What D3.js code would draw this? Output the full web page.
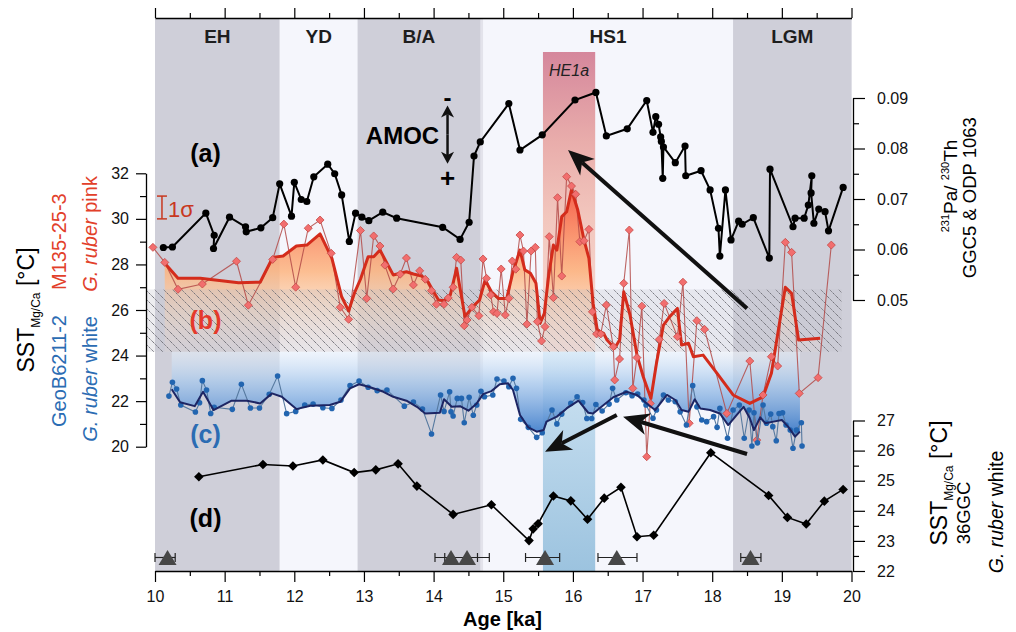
<!DOCTYPE html>
<html>
<head>
<meta charset="utf-8">
<script src="https://cdn.jsdelivr.net/npm/d3@7"></script>
<style>
  body { margin: 0; background: #fff; }
  svg { display: block; font-family: "Liberation Sans", Arial, Helvetica, sans-serif; }
</style>
</head>
<body>
<svg id="chart" width="1016" height="632"></svg>
<script>
// ---- values ----
const periodNames = ["EH", "YD", "B/A", "HS1", "LGM"];
const periodStart = [10, 11.79, 12.91, 14.71, 18.30];
const periodEnd = [11.79, 12.91, 14.67, 18.30, 20];
const he1aRange = [15.57, 16.32];
const modernSST = [24.17, 26.9];
const modernAge = [9.88, 19.86];

// (a) 231Pa/230Th, GGC5 & ODP 1063
const paAge = [10.12,10.25,10.73,10.85,10.84,11.07,11.30,11.31,11.52,11.69,
  11.79,11.96,12.00,12.10,12.18,12.28,12.48,12.58,12.68,12.79,
  12.88,12.97,13.07,13.27,13.47,14.13,14.38,14.51,14.58,14.67,
  15.08,15.24,15.56,16.03,16.33,16.48,16.78,17.06,17.15,17.19,
  17.23,17.26,17.27,17.29,17.30,17.47,17.61,17.62,17.84,17.97,
  18.09,18.11,18.19,18.27,18.38,18.43,18.59,18.82,18.83,19.16,
  19.19,19.32,19.38,19.43,19.42,19.46,19.53,19.62,19.67,19.88];
const paVal = [0.0604,0.0605,0.0672,0.0628,0.0602,0.0664,0.0645,0.0635,0.0643,0.0663,
  0.0730,0.0666,0.0733,0.0699,0.0695,0.0744,0.0769,0.0750,0.0708,0.0616,
  0.0672,0.0664,0.0657,0.0674,0.0662,0.0644,0.0620,0.0654,0.0785,0.0813,
  0.0889,0.0797,0.0827,0.0896,0.0911,0.0825,0.0839,0.0895,0.0832,0.0863,
  0.0848,0.0823,0.0814,0.0741,0.0803,0.0772,0.0805,0.0746,0.0756,0.0718,
  0.0642,0.0587,0.0718,0.0619,0.0656,0.0650,0.0663,0.0583,0.0759,0.0645,
  0.0662,0.0662,0.0688,0.0746,0.0712,0.0652,0.0680,0.0675,0.0637,0.0723];

// (b) M135-25-3, G. ruber pink
const pinkAge = [9.97,10.14,10.33,10.68,11.17,11.34,11.69,11.85,12.02,12.20,
  12.37,12.53,12.66,12.78,12.95,13.04,13.14,13.23,13.30,13.42,
  13.52,13.61,13.71,13.80,13.88,13.97,14.04,14.15,14.21,14.28,
  14.33,14.39,14.44,14.48,14.55,14.65,14.71,14.76,14.82,14.86,
  14.91,14.97,15.03,15.08,15.13,15.18,15.24,15.29,15.34,15.40,
  15.46,15.49,15.55,15.60,15.66,15.72,15.78,15.84,15.91,15.98,
  16.04,16.10,16.16,16.23,16.28,16.34,16.40,16.48,16.58,16.60,
  16.67,16.73,16.81,16.86,16.92,16.99,17.06,17.11,17.24,17.31,
  17.50,17.58,17.67,17.78,17.89,18.21,18.54,18.64,18.73,18.85,
  18.94,19.05,19.14,19.25,19.52,19.71];
const pinkSST = [28.75,28.09,26.91,27.14,28.14,26.21,28.22,29.77,27.00,29.59,
  29.95,28.49,26.12,25.59,29.49,26.51,29.25,28.81,27.97,26.92,
  27.57,28.28,27.10,27.72,27.35,26.85,26.25,26.25,26.53,27.00,
  28.31,28.19,25.31,25.56,26.12,25.75,28.24,27.39,26.66,25.92,
  25.85,27.80,25.78,26.51,28.15,27.79,29.29,28.59,25.38,28.59,
  28.75,25.49,24.64,25.27,29.22,26.54,30.93,27.49,31.85,31.44,
  31.08,29.00,29.04,29.54,25.92,24.95,24.95,26.22,24.39,22.93,
  23.85,27.17,29.51,22.56,23.91,26.17,19.56,21.90,24.71,26.29,
  24.83,27.22,21.03,25.53,25.15,21.46,23.76,20.29,22.27,23.95,
  23.54,28.97,28.53,22.34,23.03,28.85];
const pinkSmAge = [10.14,10.33,10.65,11.20,11.51,11.69,11.84,12.03,12.18,12.37,
  12.54,12.68,12.78,12.87,12.95,13.06,13.14,13.23,13.42,13.52,
  13.61,13.71,13.83,13.92,14.00,14.07,14.15,14.24,14.33,14.45,
  14.56,14.66,14.74,14.83,14.93,15.05,15.14,15.24,15.31,15.39,
  15.47,15.53,15.59,15.65,15.72,15.77,15.84,15.91,15.98,16.07,
  16.16,16.23,16.29,16.35,16.44,16.49,16.60,16.67,16.73,16.82,
  16.92,17.01,17.12,17.20,17.30,17.39,17.50,17.56,17.66,17.73,
  17.87,18.07,18.30,18.54,18.73,18.85,18.95,19.05,19.14,19.24,19.55];
const pinkSmSST = [28.05,27.39,27.39,27.20,27.22,28.31,28.37,28.81,28.85,29.34,
  28.27,26.58,25.96,26.80,27.35,28.34,28.34,28.63,27.54,27.61,
  27.68,27.58,27.49,27.24,26.80,26.44,26.41,26.66,27.83,25.71,
  26.14,26.44,27.32,26.80,26.51,26.51,27.68,28.63,27.76,27.61,
  27.17,25.42,25.85,27.46,28.85,28.63,30.10,30.31,31.27,30.39,
  29.07,28.27,26.29,25.12,24.98,24.68,24.32,24.68,26.80,25.78,
  24.02,23.07,22.12,23.66,25.34,25.71,26.07,24.46,24.54,23.95,
  24.02,23.22,22.27,21.90,22.19,23.22,25.12,27.00,26.73,24.68,24.76];

// (c) GeoB6211-2, G. ruber white
const whiteAge = [10.20,10.25,10.31,10.37,10.58,10.64,10.68,10.74,10.80,10.85,
  11.11,11.24,11.37,11.50,11.64,11.76,11.89,12.02,12.15,12.27,
  12.41,12.54,12.67,12.80,12.93,13.06,13.19,13.33,13.58,13.71,
  13.84,13.97,14.10,14.15,14.23,14.25,14.28,14.34,14.40,14.44,
  14.51,14.57,14.62,14.68,14.73,14.85,14.91,15.01,15.08,15.14,
  15.19,15.25,15.36,15.48,15.56,15.70,15.77,15.84,15.97,16.06,
  16.14,16.20,16.27,16.33,16.42,16.52,16.57,16.63,16.76,16.85,
  16.93,17.02,17.05,17.15,17.20,17.30,17.37,17.47,17.54,17.63,
  17.72,17.78,17.85,17.92,18.02,18.07,18.11,18.22,18.30,18.39,
  18.46,18.53,18.57,18.60,18.65,18.73,18.78,18.84,18.87,18.92,
  18.96,19.01,19.06,19.12,19.16,19.21,19.28,19.29];
const whiteSST = [22.22,22.83,22.53,21.83,21.52,21.93,22.90,22.49,21.46,21.73,
  21.64,22.74,21.70,21.70,22.30,23.10,21.45,21.55,21.83,21.87,
  21.71,21.68,22.05,22.68,22.88,22.61,22.46,22.49,21.78,21.96,
  21.65,20.56,22.27,21.55,22.41,21.53,21.35,22.12,22.12,21.05,
  22.17,21.38,21.83,22.43,22.19,22.27,22.97,22.88,22.63,23.00,
  22.56,21.20,20.85,20.41,20.61,21.61,21.00,21.43,21.90,22.19,
  21.94,21.24,21.24,21.85,21.57,21.87,22.56,22.05,22.37,22.24,
  22.31,22.05,21.83,21.25,21.61,22.27,22.05,21.97,21.53,20.95,
  22.68,21.75,21.17,21.10,21.32,20.85,21.68,20.37,21.61,21.83,
  20.37,21.61,20.03,21.49,20.17,21.83,21.03,21.43,20.88,20.26,
  21.46,21.49,20.95,20.73,19.93,20.73,21.05,20.03];
const whiteSmAge = [10.24,10.36,10.57,10.69,10.84,11.10,11.32,11.51,11.68,11.82,
  12.03,12.23,12.51,12.66,12.80,12.93,13.09,13.28,13.42,13.61,
  13.76,13.88,14.09,14.15,14.26,14.38,14.50,14.62,14.71,14.83,
  14.95,15.07,15.14,15.24,15.36,15.48,15.58,15.62,15.77,15.91,
  16.08,16.22,16.29,16.41,16.58,16.77,16.92,17.06,17.18,17.35,
  17.47,17.56,17.66,17.75,17.83,17.97,18.11,18.23,18.35,18.45,
  18.54,18.60,18.69,18.76,18.88,19.00,19.09,19.19,19.26];
const whiteSmSST = [22.52,21.95,21.78,22.41,21.61,22.02,22.02,21.90,22.34,22.19,
  21.65,21.80,21.83,21.97,22.56,22.74,22.61,22.41,22.19,22.02,
  21.75,21.46,21.49,22.08,21.75,21.78,21.58,21.90,22.31,22.44,
  22.74,22.78,22.49,21.39,20.85,20.66,20.73,21.10,21.32,21.68,
  22.02,21.49,21.46,21.75,22.17,22.41,22.27,21.90,21.61,22.27,
  22.05,21.61,21.53,22.08,21.68,21.61,21.46,20.95,21.39,21.75,
  21.25,20.73,21.29,21.03,21.10,21.17,20.88,20.44,20.66];

// (d) 36GGC, G. ruber white
const ggcAge = [10.63,11.55,11.98,12.41,12.86,13.17,13.49,13.76,14.28,14.83,
  15.37,15.43,15.50,15.72,15.97,16.21,16.45,16.69,16.92,17.16,
  17.98,18.81,19.08,19.35,19.61,19.88];
const ggcSST = [25.13,25.54,25.49,25.69,25.27,25.36,25.56,24.82,23.88,24.20,
  23.01,23.40,23.57,24.49,24.33,23.72,24.42,24.78,23.14,23.19,
  25.93,24.51,23.78,23.56,24.32,24.71];

// age control points with uncertainty
const ctrlAge = [10.18, 14.25, 14.48, 15.60, 16.63, 18.55];
const ctrlLo = [10.00, 14.02, 14.16, 15.32, 16.36, 18.41];
const ctrlHi = [10.29, 14.63, 14.80, 15.81, 16.92, 18.70];

// annotation arrows (age, SST on left axis)
const arrowFrom = [[18.50, 26.07], [16.63, 21.39], [18.50, 19.68]];
const arrowTo = [[15.93, 33.02], [15.60, 19.78], [16.72, 21.32]];
const sigmaRange = [30, 31];

const xTicks = d3.range(10, 21), xMinor = d3.range(10.5, 20, 1);
const sstTicks = [20, 22, 24, 26, 28, 30, 32], sstMinor = [21, 23, 25, 27, 29, 31];
const paTicks = [0.05, 0.06, 0.07, 0.08, 0.09], paMinor = [0.055, 0.065, 0.075, 0.085];
const ggcTicks = [22, 23, 24, 25, 26, 27], ggcMinor = [22.5, 23.5, 24.5, 25.5, 26.5];

// ---- drawing ----
const svg = d3.select("#chart");
const defs = svg.append("defs");
const plotTop = 18, plotBottom = 571;

const x = d3.scaleLinear().domain([10, 20]).range([155, 851.5]);
const ySST = d3.scaleLinear().domain([20, 32]).range([446.7, 173.3]);
const yPa = d3.scaleLinear().domain([0.05, 0.09]).range([300, 98]);
const yGGC = d3.scaleLinear().domain([22, 27]).range([571, 420.5]);

function grad(id, y1, y2, stops) {
  const g = defs.append("linearGradient").attr("id", id)
    .attr("gradientUnits", "userSpaceOnUse")
    .attr("x1", 0).attr("x2", 0).attr("y1", y1).attr("y2", y2);
  stops.forEach(s => g.append("stop").attr("offset", s[0]).attr("stop-color", s[1]).attr("stop-opacity", s[2]));
}
grad("heTop", 52, ySST(modernSST[0]), [[0, "#d5879c", 1], [0.3, "#e9adab", 1], [0.55, "#f2c6bd", 1], [1, "#f8ded7", 1]]);
grad("heBot", ySST(modernSST[0]), plotBottom, [[0, "#cfe4f3", 1], [1, "#9cc3df", 1]]);
grad("orange", ySST(32), ySST(modernSST[0]), [[0, "#f5493c", 0.95], [0.3, "#fa8560", 0.9], [0.55, "#fdb47f", 0.85], [0.8, "#fdd6b4", 0.55], [1, "#fde8da", 0.2]]);
grad("blue", ySST(modernSST[0]), ySST(20.4), [[0, "#e8f2fc", 0.5], [0.35, "#a7c8ec", 0.75], [1, "#2f72c6", 0.92]]);

const hatch = defs.append("pattern").attr("id", "hatch").attr("patternUnits", "userSpaceOnUse")
  .attr("width", 9).attr("height", 9);
hatch.append("path").attr("d", "M0,0L9,9M-1,8L1,10M8,-1L10,1")
  .attr("stroke", "#6c6c74").attr("stroke-width", 0.9).attr("stroke-dasharray", "1.6,0.7");

// period bands
svg.append("rect").attr("x", x(10)).attr("y", plotTop).attr("width", x(20) - x(10))
  .attr("height", plotBottom - plotTop).attr("fill", "#e3e3eb");
periodNames.forEach((name, i) => {
  svg.append("rect").attr("x", x(periodStart[i])).attr("y", plotTop)
    .attr("width", x(periodEnd[i]) - x(periodStart[i])).attr("height", plotBottom - plotTop)
    .attr("fill", i % 2 === 0 ? "#cfcfd9" : "#f5f6fc");
  svg.append("text").attr("x", (x(periodStart[i]) + x(periodEnd[i])) / 2).attr("y", 42.5)
    .attr("text-anchor", "middle").attr("font-size", 19).attr("font-weight", "bold")
    .attr("fill", "#1e1e1e").text(name);
});

// HE1a column
svg.append("rect").attr("x", x(he1aRange[0])).attr("width", x(he1aRange[1]) - x(he1aRange[0]))
  .attr("y", 52).attr("height", ySST(modernSST[0]) - 52).attr("fill", "url(#heTop)");
svg.append("rect").attr("x", x(he1aRange[0])).attr("width", x(he1aRange[1]) - x(he1aRange[0]))
  .attr("y", ySST(modernSST[0])).attr("height", plotBottom - ySST(modernSST[0])).attr("fill", "url(#heBot)");
svg.append("text").attr("x", (x(he1aRange[0]) + x(he1aRange[1])) / 2).attr("y", 76)
  .attr("text-anchor", "middle").attr("font-size", 16).attr("font-style", "italic")
  .attr("fill", "#222").text("HE1a");

// fills of the smoothed SST records
const pinkSm = d3.zip(pinkSmAge, pinkSmSST), whiteSm = d3.zip(whiteSmAge, whiteSmSST);
const fillArea = d3.area().x(d => x(d[0])).y0(ySST(modernSST[0])).y1(d => ySST(d[1]));
svg.append("path").attr("d", fillArea(pinkSm)).attr("fill", "url(#orange)");
svg.append("path").attr("d", fillArea(whiteSm)).attr("fill", "url(#blue)");

// modern SST range (hatched)
const hx = x(modernAge[0]), hw = x(modernAge[1]) - x(modernAge[0]);
const hy = ySST(modernSST[1]), hh = ySST(modernSST[0]) - ySST(modernSST[1]);
svg.append("rect").attr("x", hx).attr("y", hy).attr("width", hw).attr("height", hh)
  .attr("fill", "#c4c4cc").attr("fill-opacity", 0.3);
svg.append("rect").attr("x", hx).attr("y", hy).attr("width", hw).attr("height", hh)
  .attr("fill", "url(#hatch)");

const diamond = r => `M0,${-r}L${r},0L0,${r}L${-r},0Z`;

// (a) Pa/Th
const pa = d3.zip(paAge, paVal);
svg.append("path").attr("d", d3.line().x(d => x(d[0])).y(d => yPa(d[1]))(pa))
  .attr("fill", "none").attr("stroke", "#000").attr("stroke-width", 2);
svg.selectAll(".pa").data(pa).join("circle").attr("cx", d => x(d[0])).attr("cy", d => yPa(d[1]))
  .attr("r", 3.6).attr("fill", "#000");

// (b) pink
const sstLine = d3.line().x(d => x(d[0])).y(d => ySST(d[1]));
const pink = d3.zip(pinkAge, pinkSST);
svg.append("path").attr("d", sstLine(pink)).attr("fill", "none")
  .attr("stroke", "#b34a48").attr("stroke-opacity", 0.85).attr("stroke-width", 1.1);
svg.append("path").attr("d", sstLine(pinkSm)).attr("fill", "none")
  .attr("stroke", "#d42c1c").attr("stroke-width", 3).attr("stroke-linejoin", "round");
svg.selectAll(".pk").data(pink).join("path")
  .attr("transform", d => `translate(${x(d[0])},${ySST(d[1])})`).attr("d", diamond(4))
  .attr("fill", "#f26e6e").attr("stroke", "#c44a46").attr("stroke-width", 0.8);

// (c) white
const white = d3.zip(whiteAge, whiteSST);
svg.append("path").attr("d", sstLine(white)).attr("fill", "none")
  .attr("stroke", "#56799f").attr("stroke-width", 1.1);
svg.selectAll(".wh").data(white).join("circle").attr("cx", d => x(d[0])).attr("cy", d => ySST(d[1]))
  .attr("r", 2.8).attr("fill", "#2265b0");
svg.append("path").attr("d", sstLine(whiteSm)).attr("fill", "none")
  .attr("stroke", "#1d2563").attr("stroke-width", 2).attr("stroke-linejoin", "round");

// (d) 36GGC
const ggc = d3.zip(ggcAge, ggcSST);
svg.append("path").attr("d", d3.line().x(d => x(d[0])).y(d => yGGC(d[1]))(ggc))
  .attr("fill", "none").attr("stroke", "#000").attr("stroke-width", 1.6);
svg.selectAll(".gg").data(ggc).join("path")
  .attr("transform", d => `translate(${x(d[0])},${yGGC(d[1])})`).attr("d", diamond(4.8))
  .attr("fill", "#000");

// age control points
const cy = 557.5;
ctrlAge.forEach((a, i) => {
  const g = svg.append("g").attr("stroke", "#222").attr("stroke-width", 1.2);
  g.append("line").attr("x1", x(ctrlLo[i])).attr("x2", x(ctrlHi[i])).attr("y1", cy).attr("y2", cy);
  [ctrlLo[i], ctrlHi[i]].forEach(v => g.append("line").attr("x1", x(v)).attr("x2", x(v))
    .attr("y1", cy - 4.5).attr("y2", cy + 4.5));
});
svg.selectAll(".tri").data(ctrlAge).join("path")
  .attr("d", d => `M${x(d)},${cy - 7.5}L${x(d) + 9},${cy + 7.5}L${x(d) - 9},${cy + 7.5}Z`)
  .attr("fill", "#474747");

// arrows
function arrow(x1, y1, x2, y2, len, half, sw) {
  const a = Math.atan2(y2 - y1, x2 - x1), ux = Math.cos(a), uy = Math.sin(a);
  const bx = x2 - ux * len, by = y2 - uy * len, nx = x2 - ux * len * 0.72, ny = y2 - uy * len * 0.72;
  svg.append("line").attr("x1", x1).attr("y1", y1).attr("x2", nx).attr("y2", ny)
    .attr("stroke", "#111").attr("stroke-width", sw);
  svg.append("path").attr("fill", "#111")
    .attr("d", `M${x2},${y2}L${bx - uy * half},${by + ux * half}L${nx},${ny}L${bx + uy * half},${by - ux * half}Z`);
}
arrowFrom.forEach((f, i) => arrow(x(f[0]), ySST(f[1]), x(arrowTo[i][0]), ySST(arrowTo[i][1]), 26, 11, 4));

// AMOC double arrow
const ax = x(14.2);
arrow(ax, (yPa(0.0885) + yPa(0.077)) / 2, ax, yPa(0.0885), 12, 6.5, 2.5);
arrow(ax, (yPa(0.0885) + yPa(0.077)) / 2, ax, yPa(0.077), 12, 6.5, 2.5);
svg.append("text").attr("x", 402.5).attr("y", 144).attr("text-anchor", "middle")
  .attr("font-size", 24).attr("font-weight", "bold").text("AMOC");
svg.append("text").attr("x", ax).attr("y", 106).attr("text-anchor", "middle")
  .attr("font-size", 24).attr("font-weight", "bold").text("-");
svg.append("text").attr("x", ax).attr("y", 187).attr("text-anchor", "middle")
  .attr("font-size", 26).attr("font-weight", "bold").text("+");

// 1 sigma bar
const sx = x(10.1);
const sg = svg.append("g").attr("stroke", "#c8381f").attr("stroke-width", 1.5);
sg.append("line").attr("x1", sx).attr("x2", sx).attr("y1", ySST(sigmaRange[0])).attr("y2", ySST(sigmaRange[1]));
sigmaRange.forEach(v => sg.append("line").attr("x1", sx - 5).attr("x2", sx + 5).attr("y1", ySST(v)).attr("y2", ySST(v)));
svg.append("text").attr("x", 168).attr("y", 217).attr("font-size", 22).attr("fill", "#c8381f").text("1σ");

// panel letters
[["(a)", 161.5, "#000"], ["(b)", 328.5, "#e5392a"], ["(c)", 443, "#2b6cb3"], ["(d)", 526.5, "#000"]]
  .forEach(p => svg.append("text").attr("x", 205.5).attr("y", p[1]).attr("text-anchor", "middle")
    .attr("font-size", 25).attr("font-weight", "bold").attr("fill", p[2]).text(p[0]));

// axes
function styleAxis(g) {
  g.attr("font-family", null).attr("font-size", 16);
  g.select(".domain").attr("stroke-width", 1.3);
  g.selectAll(".tick line").attr("stroke-width", 1.2);
  g.selectAll(".tick text").attr("fill", "#111");
}
function minor(axis, vals, size, tr) {
  svg.append("g").attr("transform", tr).call(axis.tickValues(vals).tickSize(size).tickFormat(""))
    .call(g => { g.select(".domain").remove(); g.selectAll(".tick line").attr("stroke-width", 1.2); });
}
svg.append("g").attr("transform", `translate(0,${plotBottom})`)
  .call(d3.axisBottom(x).tickValues(xTicks).tickSize(11).tickSizeOuter(0).tickPadding(9)).call(styleAxis);
minor(d3.axisBottom(x), xMinor, 5, `translate(0,${plotBottom})`);
svg.append("g").attr("transform", `translate(0,${plotTop})`)
  .call(d3.axisTop(x).tickValues(xTicks).tickSize(10).tickSizeOuter(0).tickFormat("")).call(styleAxis);
minor(d3.axisTop(x), xMinor, 5, `translate(0,${plotTop})`);

svg.append("g").attr("transform", "translate(146,0)")
  .call(d3.axisLeft(ySST).tickValues(sstTicks).tickSize(10).tickSizeOuter(0).tickPadding(7)).call(styleAxis);
minor(d3.axisLeft(ySST), sstMinor, 6, "translate(146,0)");

svg.append("g").attr("transform", "translate(853,0)")
  .call(d3.axisRight(yPa).tickValues(paTicks).tickSize(12).tickSizeOuter(0).tickPadding(12)
    .tickFormat(d3.format(".2f"))).call(styleAxis);
minor(d3.axisRight(yPa), paMinor, 6, "translate(853,0)");

svg.append("g").attr("transform", "translate(853,0)")
  .call(d3.axisRight(yGGC).tickValues(ggcTicks).tickSize(12).tickSizeOuter(0).tickPadding(12)
    .tickFormat(d3.format("d"))).call(styleAxis);
minor(d3.axisRight(yGGC), ggcMinor, 6, "translate(853,0)");

svg.append("text").attr("x", 502.5).attr("y", 626).attr("text-anchor", "middle")
  .attr("font-size", 20).attr("font-weight", "bold").text("Age [ka]");

// rotated axis titles
function vtext(px, py, anchor) {
  return svg.append("text").attr("transform", `translate(${px},${py}) rotate(-90)`)
    .attr("text-anchor", anchor);
}
function sstTitle(px, py) {
  const t = vtext(px, py, "middle").attr("font-size", 23).attr("fill", "#000");
  t.append("tspan").text("SST");
  t.append("tspan").attr("font-size", 12).attr("dy", 6).text("Mg/Ca");
  t.append("tspan").attr("dy", -6).text(" [°C]");
}
function ruberTitle(px, py, anchor, color, size, word) {
  const t = vtext(px, py, anchor).attr("font-size", size).attr("fill", color);
  t.append("tspan").attr("font-style", "italic").text("G. ruber");
  t.append("tspan").text(" " + word);
}
const blueTxt = "#2b6cb3", redTxt = "#e2402a";
sstTitle(34, 310);
vtext(66, 427, "start").attr("font-size", 20).attr("fill", blueTxt).text("GeoB6211-2");
vtext(66, 290, "start").attr("font-size", 20).attr("fill", redTxt).text("M135-25-3");
ruberTitle(97, 441.7, "start", blueTxt, 20, "white");
ruberTitle(97, 291.7, "start", redTxt, 20, "pink");

const pt = vtext(956.8, 186, "middle").attr("font-size", 19);
pt.append("tspan").attr("font-size", 11).attr("dy", -8).text("231");
pt.append("tspan").attr("dy", 8).text("Pa/ ");
pt.append("tspan").attr("font-size", 11).attr("dy", -8).text("230");
pt.append("tspan").attr("dy", 8).text("Th");
vtext(975.5, 197.7, "middle").attr("font-size", 18.5).text("GGC5 & ODP 1063");
sstTitle(947, 483);
vtext(970, 513, "middle").attr("font-size", 18.5).text("36GGC");
ruberTitle(1003, 512, "middle", "#000", 19.5, "white");
</script>
</body>
</html>
